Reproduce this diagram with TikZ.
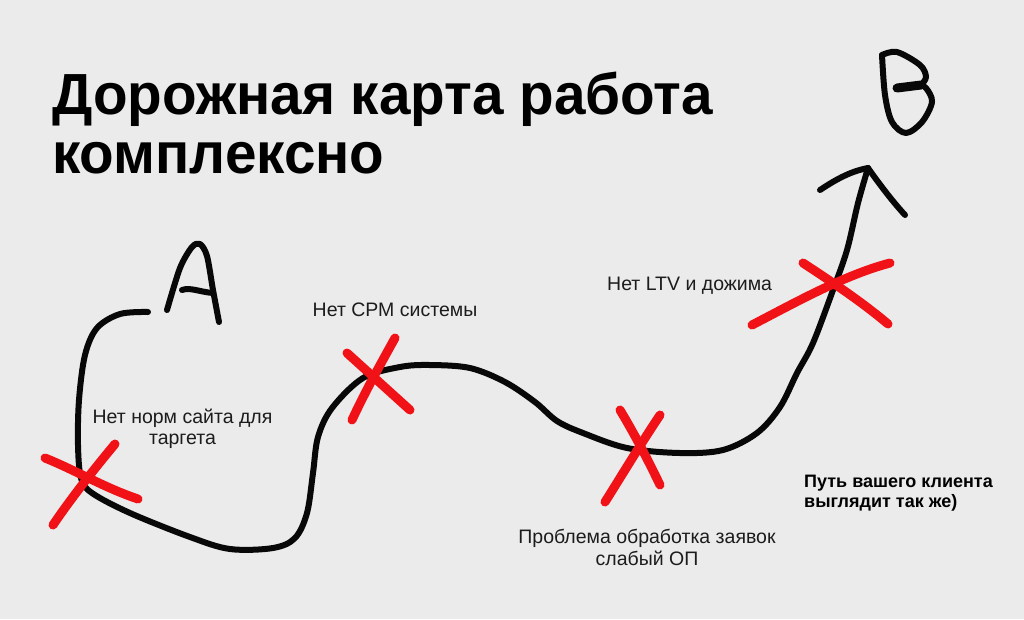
\documentclass[tikz,border=0pt]{standalone}
\usepackage{fontspec}
\setmainfont{Liberation Sans}
\definecolor{bg}{RGB}{235,235,235}
\definecolor{xred}{RGB}{240,18,22}
\definecolor{ink}{RGB}{8,8,8}
\definecolor{txt}{RGB}{28,28,28}
\tikzset{
  road/.style={draw=ink, line width=6pt, line cap=round, line join=round},
  cross/.style={draw=xred, line width=9pt, line cap=round},
  lbl/.style={inner sep=0pt, text=txt, font=\fontsize{19.5}{22}\selectfont},
  blbl/.style={inner sep=0pt, text=black, font=\fontsize{18}{20}\selectfont\bfseries},
}
\newsavebox\ttlbox
\begin{document}
\sbox\ttlbox{\fontsize{58}{60}\selectfont\bfseries Дорожная карта работа}%
\pgfmathsetmacro\ttlsx{661/\wd\ttlbox}%
\begin{tikzpicture}[x=1pt,y=-1pt]
\useasboundingbox[fill=bg] (0,0) rectangle (1024,619);
% title
\node[anchor=base west, inner sep=0pt] (t1) at (52,114) {\scalebox{\ttlsx}[1]{\usebox\ttlbox}};
\node[anchor=base west, inner sep=0pt] (t2) at (52,173) {\scalebox{\ttlsx}[1]{\fontsize{58}{60}\selectfont\bfseries комплексно}};
% road
\draw[road] plot[smooth, tension=0.55] coordinates {
 (148,312) (120,314) (97,328) (85,355) (79,400) (78,445) (81,478) (92,493)
 (130,513) (190,537) (230,549) (273,548) (295,538) (307,513) (313,473)
 (318,437) (332,408) (363,378) (400,367) (430,365) (470,368) (505,382)
 (535,402) (557,421) (583,433) (627,448) (680,453) (723,450) (757,433)
 (780,407) (797,373) (813,343) (833,290) (847,250) (858,203) (868,168)};
% arrow head
\draw[road] (820,190) .. controls (838,178) and (852,171) .. (868,168);
\draw[road] (868,168) .. controls (880,185) and (893,202) .. (905,215);
% letter A
\draw[road] plot[smooth, tension=0.5] coordinates {(167,310) (180,268) (192,247) (200,244) (207,256) (213,290) (219,322)};
\draw[road] (182,290) .. controls (190,287) and (200,292) .. (213,293);
% letter B
\draw[road] plot[smooth, tension=0.55] coordinates {(882,55) (885,95) (892,122) (906,133) (922,122) (932,102) (926,88) (918,84)};
\draw[road] plot[smooth, tension=0.55] coordinates {(882,55) (897,52) (920,65) (926,77) (921,85)};
\draw[ink, line width=9pt, line cap=round] (897,88) -- (921,85);
% crosses
\draw[cross] (45,458) .. controls (75,470) and (105,488) .. (138,499);
\draw[cross] (115,444) .. controls (95,468) and (72,497) .. (53,525);
\draw[cross] (347,353) -- (410,410);
\draw[cross] (395,338) .. controls (380,365) and (365,392) .. (352,420);
\draw[cross] (620,410) .. controls (635,435) and (648,460) .. (660,485);
\draw[cross] (660,415) .. controls (640,445) and (622,475) .. (605,502);
\draw[cross] (752,325) .. controls (800,300) and (845,275) .. (890,263);
\draw[cross] (803,263) .. controls (832,282) and (862,302) .. (888,324);
% labels
\node[lbl, anchor=base] (l1a) at (182.5,423) {Нет норм сайта для};
\node[lbl, anchor=base] (l1b) at (182.5,444) {таргета};
\node[lbl, anchor=base] (l2) at (395,316) {Нет СРМ системы};
\node[lbl, anchor=base west] (l4) at (607,290) {Нет LTV и дожима};
\node[lbl, anchor=base] (l3a) at (647,543) {Проблема обработка заявок};
\node[lbl, anchor=base] (l3b) at (647,565) {слабый ОП};
\node[blbl, anchor=base west] (l5a) at (804,487) {Путь вашего клиента};
\node[blbl, anchor=base west] (l5b) at (804,507) {выглядит так же)};
\end{tikzpicture}
\end{document}
